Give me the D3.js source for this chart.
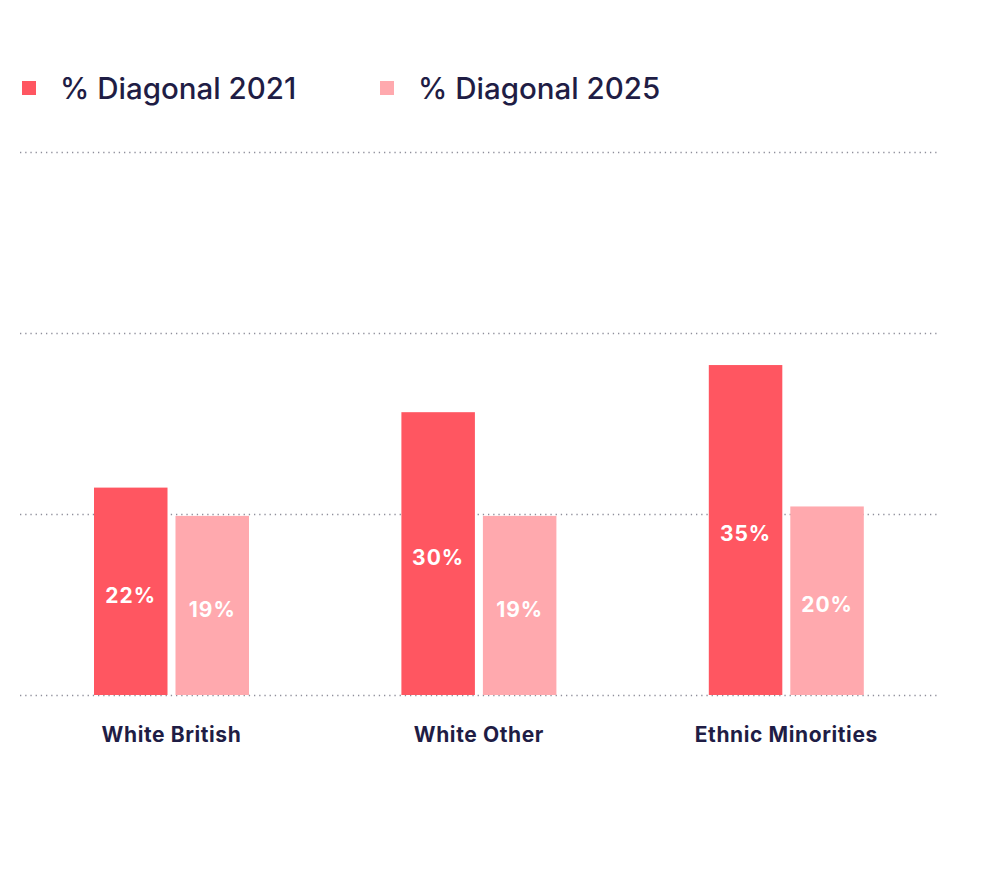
<!DOCTYPE html>
<html><head><meta charset="utf-8">
<script src="https://cdn.jsdelivr.net/npm/d3@7"></script>
<style>body{margin:0;background:#fff;}svg{display:block;font-family:Inter,"Noto Sans",sans-serif;}</style>
</head><body>
<svg id="chart" width="984" height="878"></svg>
<script>
const categories = ["White British", "White Other", "Ethnic Minorities"];
const seriesNames = ["% Diagonal 2021", "% Diagonal 2025"];
const values2021 = [22, 30, 35];
const values2025 = [19, 19, 20];
const gridTicks = [0, 19.2, 38.4, 57.6];
const colors = ["#ff5661", "#ffa9ae"];

const svg = d3.select("#chart");
const x = d3.scaleBand().domain(categories).range([17.8, 940]);
const groupW = 155;
const xs = d3.scaleBand().domain([0,1]).range([0, groupW]).paddingInner(0.098);
const y = d3.scaleLinear().domain([0, 57.6]).range([695, 152]);

// grid
svg.append("g").selectAll("line").data(gridTicks).join("line")
  .attr("x1", 20).attr("x2", 938)
  .attr("y1", d => y(d) + 0.5).attr("y2", d => y(d) + 0.5)
  .attr("stroke", "#8e8e9a").attr("stroke-width", 1.3)
  .attr("stroke-dasharray", "1.3,3.9");

const data = [];
categories.forEach((c, i) => {
  data.push({c, s: 0, v: values2021[i]});
  data.push({c, s: 1, v: values2025[i]});
});

const bars = svg.append("g").selectAll("g").data(data).join("g")
  .attr("transform", d => `translate(${x(d.c) + (x.bandwidth() - groupW) / 2 + xs(d.s)},0)`);
bars.append("rect")
  .attr("x", 0).attr("width", xs.bandwidth())
  .attr("y", d => y(d.v)).attr("height", d => y(0) - y(d.v))
  .attr("fill", d => colors[d.s]);
bars.append("text")
  .attr("x", xs.bandwidth() / 2)
  .attr("y", d => (y(d.v) + y(0)) / 2 + 4)
  .attr("dy", "0.35em")
  .attr("text-anchor", "middle")
  .attr("fill", "#fff").attr("font-size", 21).attr("font-weight", 700)
  .attr("letter-spacing", 1)
  .text(d => d.v + "%");

// category labels
svg.append("g").selectAll("text").data(categories).join("text")
  .attr("x", d => x(d) + x.bandwidth() / 2)
  .attr("y", 735).attr("dy", "0.35em")
  .attr("text-anchor", "middle")
  .attr("fill", "#1f1d45").attr("font-size", 21).attr("font-weight", 700)
  .attr("letter-spacing", 0.6)
  .text(d => d);

// legend
const legX = [22, 380];
const leg = svg.append("g").selectAll("g").data(seriesNames).join("g")
  .attr("transform", (d, i) => `translate(${legX[i]},81)`);
leg.append("rect").attr("width", 14).attr("height", 14).attr("fill", (d, i) => colors[i]);
leg.append("text").attr("x", 38).attr("y", 8).attr("dy", "0.35em")
  .attr("fill", "#1f1d45").attr("font-size", 29.5).attr("font-weight", 500)
  .text(d => d);
</script>
</body></html>
